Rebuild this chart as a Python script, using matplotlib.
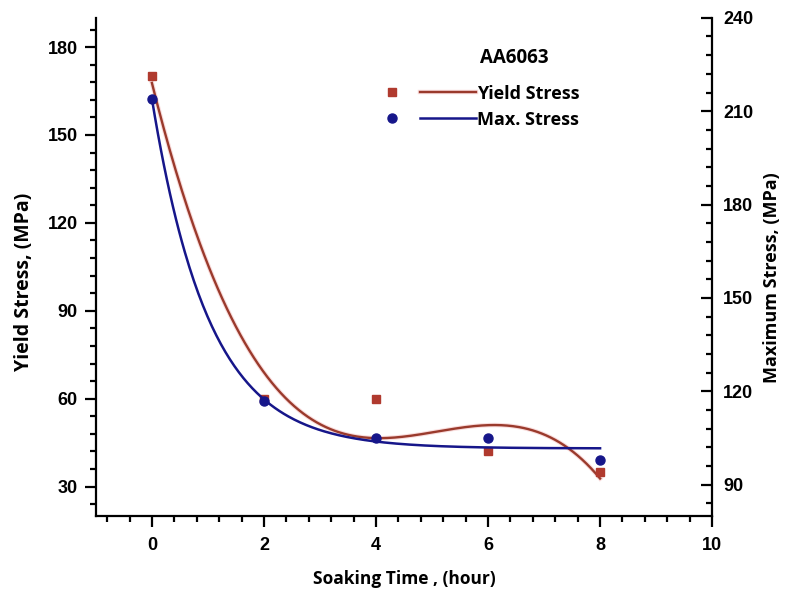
import numpy as np
import matplotlib
matplotlib.use('Agg')
import matplotlib.pyplot as plt
import matplotlib.patheffects as pe
from matplotlib.lines import Line2D
from matplotlib.legend_handler import HandlerBase
from matplotlib.ticker import MultipleLocator

# data
soak_time = np.array([0, 2, 4, 6, 8])
yield_stress = np.array([170, 60, 60, 42, 35])      # left axis, MPa
max_stress = np.array([214, 117, 105, 105, 98])     # right axis, MPa

red = '#b03a2e'
red_line = '#9a3a2c'
blue = '#16168a'
label_font = 'Open Sans'
tick_font = 'Liberation Sans'


class MarkerThenLine(HandlerBase):
    # origin-style legend key: marker on the left, line on the right
    def create_artists(self, legend, orig_handle, xdescent, ydescent,
                       width, height, fontsize, trans):
        mk, ln = orig_handle
        y = height / 2 - ydescent
        m = Line2D([-xdescent + 0.07 * width], [y], linestyle='none',
                   marker=mk.get_marker(), markersize=mk.get_markersize(),
                   color=mk.get_color(), transform=trans)
        l = Line2D([-xdescent + 0.37 * width, -xdescent + width], [y, y],
                   color=ln.get_color(), linewidth=ln.get_linewidth(),
                   transform=trans, path_effects=ln.get_path_effects())
        return [m, l]


# cubic fit for yield stress
coef = np.polyfit(soak_time, yield_stress, 3)
xs = np.linspace(0, 8, 300)
yield_fit = np.polyval(coef, xs)

# exponential decay fit for max stress, y = y0 + A*exp(-x/t)
best = None
for t in np.linspace(0.2, 4, 3000):
    M = np.column_stack([np.ones(len(soak_time)), np.exp(-soak_time / t)])
    sol, res, rk, sv = np.linalg.lstsq(M, max_stress, rcond=None)
    err = np.sum((M @ sol - max_stress) ** 2)
    if best is None or err < best[0]:
        best = (err, t, sol)
_, tau, (y0, amp) = best
max_fit = y0 + amp * np.exp(-xs / tau)

fig, ax = plt.subplots(figsize=(7.86, 5.93), dpi=100)
fig.subplots_adjust(left=0.122, right=0.906, bottom=0.130, top=0.970)
ax2 = ax.twinx()

glow = [pe.Stroke(linewidth=3.2, foreground='#f9dcdc'), pe.Normal()]
ln1, = ax.plot(xs, yield_fit, color=red_line, lw=1.7, path_effects=glow, zorder=2)
mk1, = ax.plot(soak_time, yield_stress, 's', color=red, ms=6, zorder=3)
ln2, = ax2.plot(xs, max_fit, color=blue, lw=1.8, zorder=2)
mk2, = ax2.plot(soak_time, max_stress, 'o', color=blue, ms=6.5, zorder=3)

ax.set_xlim(-1, 10)
ax.set_ylim(20, 190)
ax2.set_ylim(80, 240)

ax.xaxis.set_major_locator(MultipleLocator(2))
ax.xaxis.set_minor_locator(MultipleLocator(0.4))
ax.yaxis.set_major_locator(MultipleLocator(30))
ax.yaxis.set_minor_locator(MultipleLocator(6))
ax2.yaxis.set_major_locator(MultipleLocator(30))
ax2.yaxis.set_minor_locator(MultipleLocator(6))

for a in (ax, ax2):
    for s in a.spines.values():
        s.set_linewidth(1.6)
    a.spines['top'].set_visible(False)
ax.spines['right'].set_visible(False)
ax2.spines['left'].set_visible(False)
ax2.spines['bottom'].set_visible(False)

ax.tick_params(which='major', direction='out', length=8, width=1.6, labelsize=13, pad=5)
ax.tick_params(which='minor', direction='out', length=4.5, width=1.6)
ax.tick_params(axis='x', which='major', pad=7)
ax2.tick_params(which='major', direction='in', length=8, width=1.6, labelsize=13, pad=8)
ax2.tick_params(which='minor', direction='in', length=4.5, width=1.6)

for lab in ax.get_xticklabels() + ax.get_yticklabels() + ax2.get_yticklabels():
    lab.set_fontfamily(tick_font)
    lab.set_fontweight('bold')

ax.set_xlabel('Soaking Time , (hour)', fontsize=12.5, fontweight='bold',
              family=label_font, labelpad=12)
ax.set_ylabel('Yield Stress, (MPa)', fontsize=14, fontweight='bold',
              family=label_font)
ax2.set_ylabel('Maximum Stress, (MPa)', fontsize=13, fontweight='bold',
               family=label_font)
ax.yaxis.set_label_coords(-0.10, 0.47)
ax2.yaxis.set_label_coords(1.082, 0.478)

leg = ax2.legend([(mk1, ln1), (mk2, ln2)], ['Yield Stress', 'Max. Stress'],
                 handler_map={tuple: MarkerThenLine()},
                 loc='upper left', bbox_to_anchor=(0.471, 0.866),
                 frameon=False, handlelength=5.0, handletextpad=0.05,
                 labelspacing=0.45, borderpad=0, borderaxespad=0,
                 prop={'family': label_font, 'weight': 'bold', 'size': 13})
ax2.text(0.624, 0.92, 'AA6063', transform=ax2.transAxes, fontsize=13.5,
         fontweight='bold', family=label_font, va='center')

fig.savefig('out.png', dpi=100)
